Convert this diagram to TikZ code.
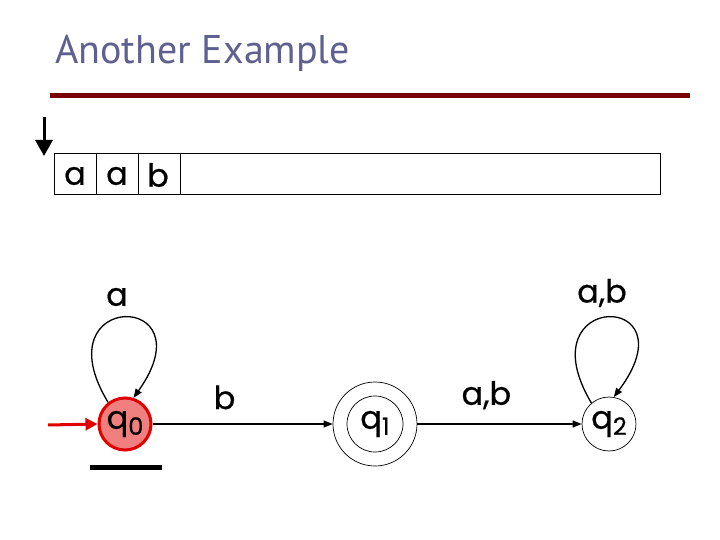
\documentclass[tikz,border=0pt]{standalone}
\usepackage{fontspec}
\setmainfont{Liberation Sans}
\newfontfamily\titlefont{PT Sans}
\newfontfamily\handfont[FakeBold=0.6]{Poppins}
\usetikzlibrary{arrows.meta,calc}
\definecolor{titlecol}{HTML}{5F6090}
\definecolor{rulecol}{HTML}{7B0000}
\definecolor{startfill}{HTML}{F08080}
\definecolor{startdraw}{HTML}{E00000}
\newcommand{\hw}[1]{{\handfont\fontsize{32}{34}\selectfont #1}}
\newcommand{\qs}[2]{{\handfont\fontsize{32}{34}\selectfont #1\raisebox{-0.35ex}{\fontsize{24}{24}\selectfont #2}}}
\begin{document}
\begin{tikzpicture}[x=1pt,y=-1pt,
  state/.style={circle,draw,line width=0.7pt,minimum size=54pt,inner sep=0pt},
  edge/.style={line width=1.3pt,-{Triangle[length=9pt,width=7pt]}},
  lbl/.style={inner sep=0pt}]
\useasboundingbox (0,0) rectangle (720,540);
% title
\node[lbl,anchor=base west,text=titlecol] (title) at (55,64) {\titlefont\fontsize{40}{44}\selectfont Another Example};
\draw[rulecol,line width=5pt] (50,95.5) -- (690,95.5);
% tape
\coordinate (hd1) at (44,117);
\coordinate (hd2) at (44,156);
\draw[line width=3pt,-{Triangle[length=16pt,width=17pt]}] (hd1) -- (hd2);
\draw[line width=0.7pt] (54,153) rectangle (660,194);
\foreach \x in {96,138,180} \draw[line width=0.7pt] (\x,153) -- (\x,194);
\node[lbl] (t1) at (75,176) {\hw{a}};
\node[lbl] (t2) at (117,176) {\hw{a}};
\node[lbl] (t3) at (158,175) {\hw{b}};
% states
\node[state,fill=startfill,draw=startdraw,line width=3pt,minimum size=52pt] (q0) at (125,424) {\qs{q}{0}};
\node[state,minimum size=56pt] (q1) at (375,424) {\qs{q}{1}};
\node[circle,draw,line width=0.7pt,minimum size=84pt] (q1o) at (375,424) {};
\node[state] (q2) at (609,424) {\qs{q}{2}};
% initial arrow
\coordinate (ini) at (48,425);
\draw[startdraw,line width=3pt,-{Triangle[length=12pt,width=12pt]}] (ini) -- (q0.west);
% underline
\draw[line width=5pt] (90,467) -- (162,467);
% transitions
\draw[edge] (q0) -- node[lbl,above=14pt,pos=0.4] (lb) {\hw{b}} (q1o);
\draw[edge] (q1o) -- node[lbl,above=14pt,pos=0.42] (lab) {\hw{a,b}} (q2);
\draw[edge] (q0.128) .. controls ($(q0)+(-85,-134)$) and ($(q0)+(85,-134)$) .. (q0.72);
\draw[edge] (q2.130) .. controls ($(q2)+(-85,-134)$) and ($(q2)+(85,-134)$) .. (q2.80);
\node[lbl] (la) at (117,297) {\hw{a}};
\node[lbl] (lab2) at (602,293) {\hw{a,b}};
\end{tikzpicture}
\end{document}
